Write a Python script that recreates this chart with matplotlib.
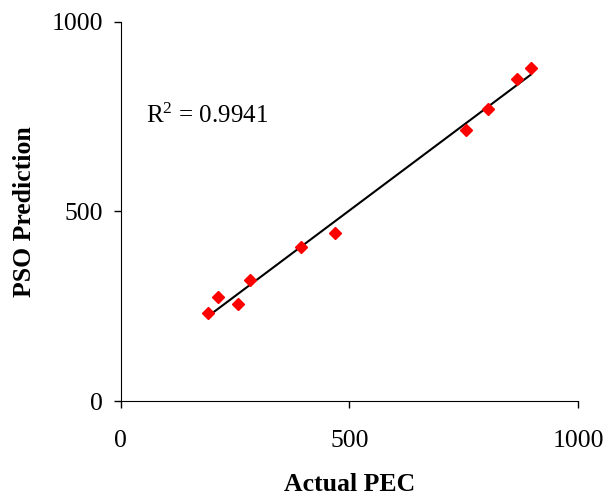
import matplotlib.pyplot as plt
import numpy as np

plt.rcParams['font.family'] = ['Liberation Serif', 'DejaVu Serif']
plt.rcParams['mathtext.fontset'] = 'custom'
plt.rcParams['mathtext.rm'] = 'Liberation Serif'
plt.rcParams['mathtext.it'] = 'Liberation Serif'

# Valori
actual_pec = np.array([190, 213, 257, 283, 395, 469, 755, 804, 866, 897])
pso_pred = np.array([231, 274, 257, 318, 407, 443, 715, 770, 850, 878])
r2_text = "R$^{2}$ = 0.9941"

fig = plt.figure(figsize=(6.13, 4.97), dpi=100)
ax = fig.add_axes([0.197, 0.193, 0.746, 0.763])

# retta di regressione
k, q = np.polyfit(actual_pec, pso_pred, 1)
xs = np.array([actual_pec.min(), actual_pec.max()])
ax.plot(xs, k * xs + q, color='black', lw=1.5)
ax.plot(actual_pec, pso_pred, 'D', color='red', ms=6.5, mec='red')

ax.text(56, 733, r2_text, fontsize=18, va='baseline', ha='left')

ax.set_xlim(0, 1000)
ax.set_ylim(0, 1000)
ax.set_xticks([0, 500, 1000])
ax.set_yticks([0, 500, 1000])
ax.tick_params(direction='out', length=5, width=1, labelsize=18.5)
ax.tick_params(axis='x', pad=16)
ax.tick_params(axis='y', pad=8)
for s in ['top', 'right']:
    ax.spines[s].set_visible(False)
ax.set_xlabel("Actual PEC", fontsize=18.5, fontweight='bold', labelpad=15)
ax.set_ylabel("PSO Prediction", fontsize=18.5, fontweight='bold', labelpad=11)

fig.savefig("out.png", dpi=100)
